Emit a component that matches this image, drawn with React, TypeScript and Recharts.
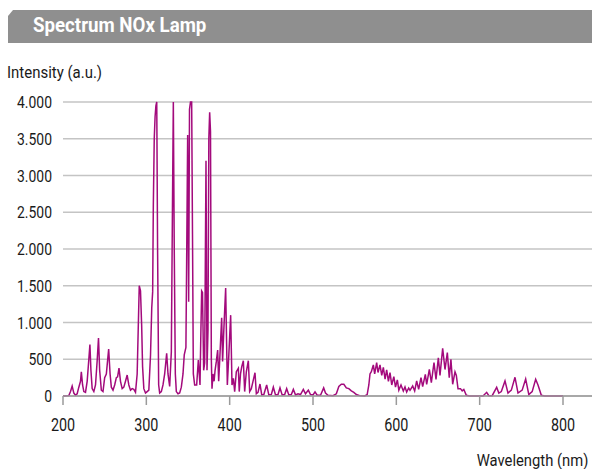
import React from "react";
import { LineChart, Line, XAxis, YAxis, CartesianGrid } from "recharts";

// [wavelength nm, intensity a.u.]
const uvBand: [number, number][] = [
  [200, 0], [207, 5], [209, 60], [211, 135], [213, 40], [215, 10], [217, 30], [219, 120],
  [221, 200], [222, 330], [223.5, 150], [225, 60], [227, 50], [229, 200], [231, 500],
  [232.3, 700], [233.5, 350], [235, 100], [237, 60], [239, 150], [241, 480], [242.6, 790],
  [244, 350], [246, 80], [248, 60], [250, 250], [252, 300], [254.8, 640], [256.5, 300],
  [258, 120], [260, 80], [262, 150], [264, 250], [265.5, 260], [267.2, 380], [269, 200],
  [271, 100], [273, 120], [275, 200], [277, 285], [279, 150], [281, 80], [283, 100],
  [285, 90], [287, 50], [289, 300], [291.5, 1500], [293, 1430], [294.4, 960], [295.5, 400],
  [297, 100], [299, 40],
];

const peakBand: [number, number][] = [
  [301, 60], [303, 80], [305, 550], [306.5, 1200], [307.6, 1420], [308.4, 2600], [309.5, 3500],
  [310.5, 3800], [311.5, 3950], [312.5, 4000], [313.5, 2000], [314.8, 150], [316, 40],
  [318, 60], [320, 150], [322, 300], [324.4, 580], [326, 300], [328, 130], [330, 600],
  [331.3, 2500], [332.4, 4000], [333.5, 2000], [334.8, 300], [336, 60], [338, 30], [340, 40],
  [342, 120], [344, 300], [345.5, 560], [347.5, 660], [348.5, 2000], [349.6, 3550],
  [350.8, 1283], [351.8, 3900], [353, 4000], [354.4, 4000], [355.4, 2200], [356.4, 300],
  [358, 150], [360.4, 150], [362.4, 490], [364.4, 150], [365.5, 900], [366.4, 1430],
  [367.4, 1410], [368.8, 350], [370, 450], [371.6, 3200], [372.8, 350], [374, 900],
  [375, 3500], [376, 3860], [377, 3600], [378, 500], [378.8, 100], [380, 300], [381.3, 200],
  [382.5, 350], [384, 470], [385.6, 625], [386.8, 200], [388.3, 550], [390.4, 1065],
  [391.5, 470], [393, 900], [395.2, 1470], [397.2, 150], [399, 560], [401.2, 1100],
  [402.8, 150], [404.5, 240], [406, 60], [408, 330], [410.4, 377], [411.5, 60], [413, 300],
  [414.5, 400], [416.4, 480], [418, 60], [420, 330], [422.4, 480], [424, 60], [426, 100],
  [428, 200], [430.4, 317], [432, 30], [434, 50], [436.4, 163], [438.5, 15],
];

const visBand: [number, number][] = [
  [441, 20], [444.4, 150], [447, 15], [450, 20], [452.4, 120], [455, 15], [458, 20],
  [460.4, 110], [463, 15], [466, 20], [468.4, 100], [471, 15], [474, 20], [476.4, 90],
  [479, 15], [482, 30], [485, 20], [488.4, 90], [491, 30], [494.4, 80], [497, 20], [500, 15],
  [502.4, 55], [505, 10], [509, 10], [512.8, 110], [515, 40], [518, 10], [524, 5], [528, 30],
  [531, 130], [534, 160], [537, 160], [540, 110], [543, 100], [546, 70], [549, 50], [552, 20],
  [556, 5], [562, 0], [565, 20], [567, 150], [568.4, 300], [570, 330], [572.4, 422],
  [574, 300], [576.4, 454], [578, 320], [580.4, 422], [582.5, 280], [584.4, 390], [586.5, 230],
  [588.4, 354], [590.5, 200], [592.4, 318], [594.5, 150], [597, 263], [599, 120], [601.2, 218],
  [603, 80], [605.6, 150], [608.4, 68], [610.4, 123], [612.4, 54], [614.8, 109], [616.4, 77],
  [619.6, 136], [622, 68], [624.4, 204], [626.8, 91], [629.6, 249], [631.6, 127], [634.8, 295],
  [636.4, 159], [639.6, 363], [642, 181], [645.2, 453], [647.6, 227], [650.4, 520],
  [652.4, 280], [655.6, 650], [658.4, 360], [661.2, 590], [663.5, 250], [665.5, 500],
  [667.6, 160], [670.4, 330], [672, 280], [674, 100], [677, 100], [679, 70], [681, 90],
  [684, 10], [688, 0], [704, 0], [708.4, 50], [711, 5], [715, 5], [720.4, 118], [723, 40],
  [726, 60], [730.4, 205], [734, 40], [738, 80], [742.4, 254], [746, 40], [751, 80],
  [755.2, 231], [759, 20], [763, 60], [767.2, 227], [770, 150], [774, 10], [778, 0], [800, 0],
];

const xTicks = [200, 300, 400, 500, 600, 700, 800];
const yTicks = [0, 500, 1000, 1500, 2000, 2500, 3000, 3500, 4000];

const title = "Spectrum NOx Lamp";
const yLabel = "Intensity (a.u.)";
const xLabel = "Wavelength (nm)";

const data = [...uvBand, ...peakBand, ...visBand].map(([nm, v]) => ({ nm, v }));

const FONT = "Roboto, 'Liberation Sans', sans-serif";
const TEXT = "#1a1a1a";
const SQUEEZE = 0.82;

const fmt = (n: number) => (n >= 1000 ? `${Math.floor(n / 1000)}.${String(n % 1000).padStart(3, "0")}` : String(n));

const YTick = (props: any) => {
  const { y, payload } = props;
  return (
    <text
      transform={`translate(52 ${y + 6}) scale(${SQUEEZE} 1)`}
      x={0}
      y={0}
      textAnchor="end"
      fontFamily={FONT}
      fontSize={17}
      fill={TEXT}
    >
      {fmt(payload.value)}
    </text>
  );
};

const XTick = (props: any) => {
  const { x, payload } = props;
  return (
    <text
      transform={`translate(${x} 431) scale(${SQUEEZE} 1)`}
      x={0}
      y={0}
      textAnchor="middle"
      fontFamily={FONT}
      fontSize={17.5}
      fill={TEXT}
    >
      {payload.value}
    </text>
  );
};

const squeezed = (scale: number, origin: string): React.CSSProperties => ({
  transform: `scaleX(${scale})`,
  transformOrigin: origin,
  whiteSpace: "nowrap",
  position: "absolute",
});

export default function App() {
  return (
    <div style={{ position: "absolute", left: 0, top: 0, width: 592, height: 469, background: "#fff", overflow: "hidden" }}>
      <div
        style={{
          position: "absolute",
          left: 8,
          top: 10,
          width: 584,
          height: 33,
          background: "#8f8f8f",
          clipPath: "polygon(5px 0, 100% 0, 100% 100%, 0 100%, 0 6px)",
        }}
      />
      <div
        style={{
          ...squeezed(0.89, "left center"),
          left: 33,
          top: 13,
          fontFamily: FONT,
          fontWeight: "bold",
          fontSize: 21,
          lineHeight: "25px",
          color: "#fff",
        }}
      >
        {title}
      </div>
      <div
        style={{
          ...squeezed(0.88, "left center"),
          left: 7,
          top: 62,
          fontFamily: FONT,
          fontSize: 17,
          lineHeight: "20px",
          color: TEXT,
        }}
      >
        {yLabel}
      </div>
      <div
        style={{
          ...squeezed(0.87, "right center"),
          right: 4,
          top: 450,
          fontFamily: FONT,
          fontSize: 17,
          lineHeight: "20px",
          color: TEXT,
        }}
      >
        {xLabel}
      </div>
      <div style={{ position: "absolute", left: 0, top: 0 }}>
        <LineChart width={592} height={469} data={data} margin={{ top: 102, right: 0, bottom: 0, left: 0 }}>
          <CartesianGrid vertical={false} stroke="#c4c4c4" strokeWidth={1.6} />
          <XAxis
            dataKey="nm"
            type="number"
            domain={[200, 834.8]}
            ticks={xTicks}
            allowDataOverflow
            height={73}
            tickSize={9}
            stroke="#9a9a9a"
            strokeWidth={1.5}
            tickLine={{ stroke: "#9a9a9a", strokeWidth: 1.5 }}
            tick={<XTick />}
          />
          <YAxis
            type="number"
            domain={[0, 4000]}
            ticks={yTicks}
            width={63}
            axisLine={false}
            tickLine={false}
            tick={<YTick />}
          />
          <Line
            dataKey="v"
            type="linear"
            stroke="#a30a7c"
            strokeWidth={1.5}
            dot={false}
            isAnimationActive={false}
          />
        </LineChart>
      </div>
    </div>
  );
}
